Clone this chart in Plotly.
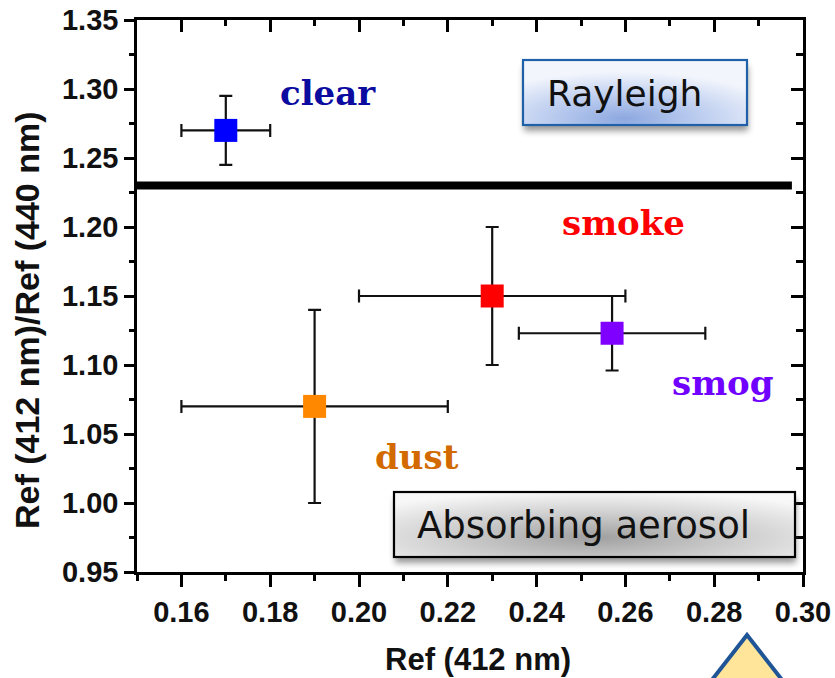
import base64
import plotly.graph_objects as go

# --- data ---------------------------------------------------------------
aerosol_types = ["clear", "smoke", "smog", "dust"]
ref412 = [0.17, 0.23, 0.257, 0.19]
ref412_err = [0.01, 0.03, 0.021, 0.03]
ratio_412_440 = [1.27, 1.15, 1.123, 1.07]
ratio_err = [0.025, 0.05, 0.027, 0.07]
marker_colors = ["#0000FF", "#FF0000", "#7F00FF", "#FF8800"]
label_colors = ["#0B0BA0", "#FF0000", "#7000FF", "#D26A00"]
label_x = [0.193, 0.2595, 0.282, 0.213]
label_y = [1.297, 1.203, 1.087, 1.033]

rayleigh_threshold = 1.23
threshold_end = 0.2975

x_ticks = [0.16, 0.18, 0.20, 0.22, 0.24, 0.26, 0.28, 0.30]
y_ticks = [0.95, 1.00, 1.05, 1.10, 1.15, 1.20, 1.25, 1.30, 1.35]
x_range = [0.15, 0.30]
y_range = [0.95, 1.35]

# --- figure geometry (pixels) ------------------------------------------
W, H = 835, 678
ML, MR, MT, MB = 137, 32, 20, 106
PW, PH = W - ML - MR, H - MT - MB


def px(x):
    return (x - ML) / PW


def py(y):
    return (H - MB - y) / PH


def box_image(w, h, stops, stroke, cx, cy, r):
    pad = 14
    stop_xml = "".join(
        f'<stop offset="{o}" stop-color="{c}"/>' for o, c in stops
    )
    svg = (
        f'<svg xmlns="http://www.w3.org/2000/svg" width="{w + 2 * pad}" '
        f'height="{h + 2 * pad}" viewBox="0 0 {w + 2 * pad} {h + 2 * pad}">'
        f'<defs><radialGradient id="g" cx="{cx}" cy="{cy}" r="{r}">{stop_xml}'
        f'</radialGradient>'
        f'<filter id="s" x="-20%" y="-30%" width="140%" height="170%">'
        f'<feGaussianBlur stdDeviation="3"/></filter></defs>'
        f'<rect x="{pad + 1}" y="{pad + 6}" width="{w}" height="{h}" '
        f'fill="#444" opacity="0.55" filter="url(#s)"/>'
        f'<rect x="{pad}" y="{pad}" width="{w}" height="{h}" fill="url(#g)" '
        f'stroke="{stroke}" stroke-width="2.2"/></svg>'
    )
    uri = "data:image/svg+xml;base64," + base64.b64encode(svg.encode()).decode()
    return uri, pad, w + 2 * pad, h + 2 * pad


fig = go.Figure()

for i, name in enumerate(aerosol_types):
    fig.add_trace(
        go.Scatter(
            x=[ref412[i]],
            y=[ratio_412_440[i]],
            mode="markers",
            name=name,
            marker=dict(symbol="square", size=23, color=marker_colors[i]),
            error_x=dict(type="data", array=[ref412_err[i]], color="#111111",
                         thickness=2.2, width=6.5),
            error_y=dict(type="data", array=[ratio_err[i]], color="#111111",
                         thickness=2.2, width=6.5),
            showlegend=False,
        )
    )

# Rayleigh / aerosol separation line
fig.add_shape(type="line", xref="x", yref="y",
              x0=x_range[0], x1=threshold_end,
              y0=rayleigh_threshold, y1=rayleigh_threshold,
              line=dict(color="black", width=8))

annotations = []
for i, name in enumerate(aerosol_types):
    annotations.append(dict(
        x=label_x[i], y=label_y[i], xref="x", yref="y", text=name,
        showarrow=False, xanchor="center", yanchor="middle",
        font=dict(family="DejaVu Serif", size=34, color=label_colors[i],
                  weight="bold"),
    ))

# Framed region labels with shaded fill and drop shadow
images = []
boxes = [
    ("Rayleigh", 523, 60, 224, 65, "#2060A8",
     [(0, "#8DA8E0"), (0.5, "#BFCFF0"), (1, "#F2F5FC")], 0.45, 0.9, 0.72, 545, 36),
    ("Absorbing aerosol", 394, 492, 401, 65, "#000000",
     [(0, "#A0A0A0"), (0.5, "#CDCDCD"), (1, "#F7F7F7")], 0.5, 0.7, 0.72, 415, 37),
]
for text, bx, by, bw, bh, stroke, stops, cx, cy, r, tx, fs in boxes:
    uri, pad, iw, ih = box_image(bw, bh, stops, stroke, cx, cy, r)
    images.append(dict(
        source=uri, xref="paper", yref="paper",
        x=px(bx - pad), y=py(by - pad), sizex=iw / PW, sizey=ih / PH,
        xanchor="left", yanchor="top", sizing="stretch", layer="above",
    ))
    annotations.append(dict(
        x=px(tx), y=py(by + bh / 2 + 1), xref="paper", yref="paper",
        xanchor="left", yanchor="middle", text=text, showarrow=False,
        font=dict(family="DejaVu Sans", size=fs, color="#111111"),
    ))

# Axis titles
annotations.append(dict(
    x=px(478), y=py(659), xref="paper", yref="paper", text="Ref (412 nm)",
    showarrow=False, xanchor="center", yanchor="middle", borderpad=0,
    font=dict(family="Liberation Sans", size=31, color="#111111", weight="bold"),
))
annotations.append(dict(
    x=px(27), y=py(320), xref="paper", yref="paper",
    text="Ref (412 nm)/Ref (440 nm)", textangle=-90, showarrow=False,
    xanchor="center", yanchor="middle",
    font=dict(family="Liberation Sans", size=34, color="#111111", weight="bold"),
))

# Arrow-shaped marker at the lower right
tri = [(747, 635), (836, 749), (658, 749)]
path = "M " + " L ".join(f"{px(a)},{py(b)}" for a, b in tri) + " Z"
fig.add_shape(type="path", xref="paper", yref="paper", path=path,
              fillcolor="#FFE59A", line=dict(color="#1F5597", width=4))

tick_font = dict(family="Liberation Sans", size=29, color="#111111",
                 weight="bold")
axis_common = dict(showgrid=False, zeroline=False, showline=True,
                   linecolor="black", linewidth=2.5, tickcolor="black",
                   tickwidth=2.5, automargin=False)

fig.update_layout(
    template="none",
    width=W, height=H,
    margin=dict(l=ML, r=MR, t=MT, b=MB, autoexpand=False),
    paper_bgcolor="white", plot_bgcolor="white",
    xaxis=dict(range=x_range, tickvals=x_ticks, tickformat=".2f",
               ticks="outside", ticklen=12, tickfont=tick_font,
               minor=dict(dtick=0.01, tick0=0.15, ticks="outside", ticklen=6,
                          tickwidth=2.5, tickcolor="black"),
               **axis_common),
    yaxis=dict(range=y_range, tickvals=y_ticks, tickformat=".2f",
               ticks="outside", ticklen=10, tickfont=tick_font,
               minor=dict(dtick=0.025, tick0=0.95, ticks="outside", ticklen=5,
                          tickwidth=2.5, tickcolor="black"),
               **axis_common),
    xaxis2=dict(overlaying="x", side="top", range=x_range, tickvals=x_ticks,
                ticks="inside", ticklen=12, showticklabels=False,
                minor=dict(dtick=0.01, tick0=0.15, ticks="inside", ticklen=6,
                           tickwidth=2.5, tickcolor="black"),
                **axis_common),
    yaxis2=dict(overlaying="y", side="right", range=y_range, tickvals=y_ticks,
                ticks="inside", ticklen=12, showticklabels=False,
                minor=dict(dtick=0.025, tick0=0.95, ticks="inside", ticklen=7,
                           tickwidth=2.5, tickcolor="black"),
                **axis_common),
    annotations=annotations,
    images=images,
    showlegend=False,
)

# invisible trace so the mirrored frame axes are drawn
fig.add_trace(go.Scatter(x=[x_range[0]], y=[y_range[0]], xaxis="x2",
                         yaxis="y2", mode="markers", opacity=0,
                         showlegend=False, hoverinfo="skip"))

fig.write_html("out.html")
